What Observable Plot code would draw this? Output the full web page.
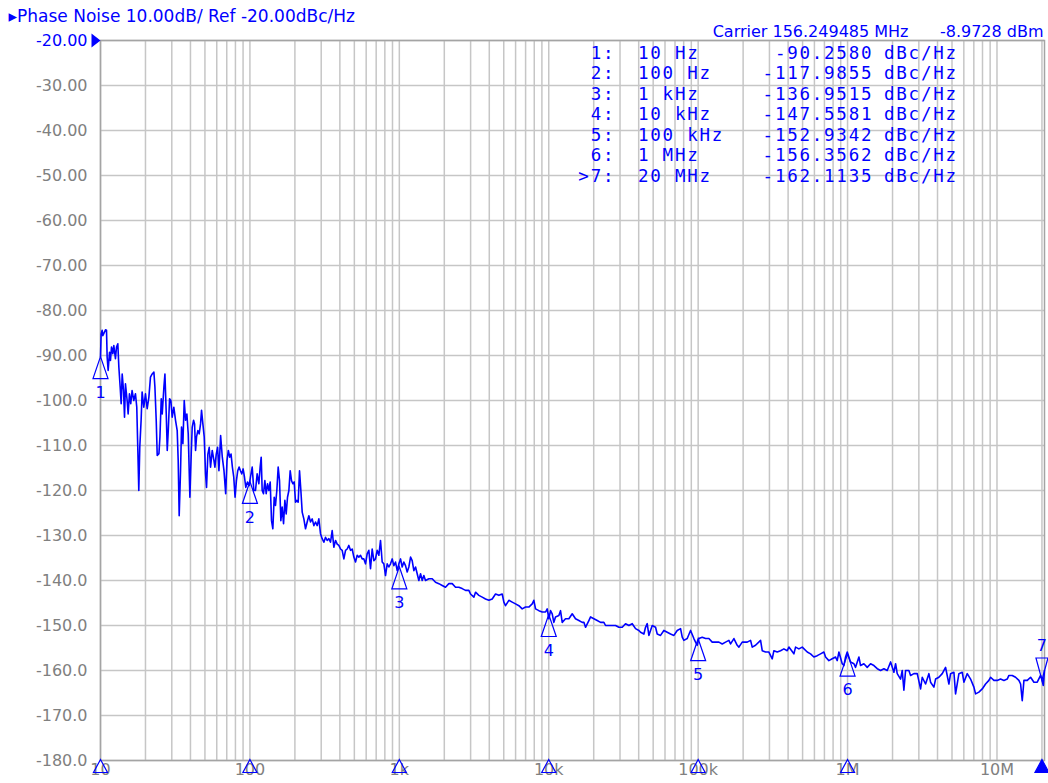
<!DOCTYPE html>
<html>
<head>
<meta charset="utf-8">
<script src="https://cdn.jsdelivr.net/npm/d3@7"></script>
<script src="https://cdn.jsdelivr.net/npm/@observablehq/plot@0.6"></script>
<style>
html, body { margin: 0; padding: 0; background: #fff; }
#chart svg { display: block; }
</style>
</head>
<body>
<div id="chart"></div>
<script>
// ---------- texts ----------
const titleText = "▸Phase Noise 10.00dB/ Ref -20.00dBc/Hz";
const carrierText = "Carrier 156.249485 MHz";
const carrierPower = "-8.9728 dBm";

// ---------- axes ----------
const refLevel = -20;
const refLabel = "-20.00";
const yTicks = [-30, -40, -50, -60, -70, -80, -90, -100, -110, -120, -130, -140, -150, -160, -170, -180];
const yTickLabels = ["-30.00", "-40.00", "-50.00", "-60.00", "-70.00", "-80.00", "-90.00", "-100.0", "-110.0", "-120.0", "-130.0", "-140.0", "-150.0", "-160.0", "-170.0", "-180.0"];
const xTicks = [10, 100, 1e3, 1e4, 1e5, 1e6, 1e7];
const xTickLabels = ["10", "100", "1k", "10k", "100k", "1M", "10M"];
const xDomain = [10, 2.08e7];

// ---------- markers ----------
const markerIds = ["1", "2", "3", "4", "5", "6", "7"];
const markerFreqHz = [10, 100, 1e3, 1e4, 1e5, 1e6, 2e7];
const markerFreqLabels = ["10 Hz", "100 Hz", "1 kHz", "10 kHz", "100 kHz", "1 MHz", "20 MHz"];
const markerLevel = [-90.2580, -117.9855, -136.9515, -147.5581, -152.9342, -156.3562, -162.1135];
const markerUnit = "dBc/Hz";
const activeMarker = "7";

// ---------- trace: [offset frequency Hz, dBc/Hz] ----------
const traceSweep = [
[10,-90.3],[10.1,-85.2],[10.26,-84.4],[10.36,-85.6],[10.63,-84.8],[10.8,-84.3],[10.97,-84.4],[11.08,-90.4],[11.25,-93.3],[11.49,-89.3],
[11.66,-91.1],[11.85,-88.1],[12.09,-89.6],[12.28,-87.8],[12.59,-90.7],[12.8,-88.1],[13.06,-87.4],[13.27,-92.6],[13.54,-97.0],[13.75,-100.7],
[13.97,-94.1],[14.26,-97.8],[14.48,-103.7],[14.69,-96.3],[15.08,-100.0],[15.31,-103.0],[15.62,-98.5],[15.94,-100.7],[16.27,-97.8],[16.7,-100.0],
[17.14,-98.5],[17.49,-101.5],[17.76,-110.4],[18.04,-120.0],[18.32,-110.4],[18.7,-104.4],[18.99,-98.1],[19.49,-101.5],[20.0,-98.5],[20.53,-101.8],
[21.07,-99.3],[21.6,-94.8],[22.18,-94.1],[22.77,-93.7],[23.13,-97.0],[23.6,-104.4],[23.97,-112.2],[24.61,-111.8],[24.99,-108.1],[25.5,-99.6],
[25.89,-103.0],[26.57,-97.0],[26.99,-94.1],[27.55,-103.0],[27.97,-111.1],[28.41,-106.7],[28.99,-99.6],[29.58,-100.0],[30.19,-103.7],[30.97,-101.5],
[31.78,-104.4],[32.61,-106.7],[33.11,-113.3],[33.62,-125.6],[34.33,-115.6],[34.86,-105.9],[35.6,-109.6],[36.34,-100.0],[37.09,-104.4],[37.86,-103.0],
[38.65,-107.4],[39.65,-121.5],[40.48,-111.9],[41.1,-105.9],[41.96,-104.4],[42.61,-105.2],[43.27,-111.1],[43.93,-108.1],[44.84,-106.7],[45.77,-107.4],
[46.73,-105.2],[47.45,-102.2],[48.44,-105.2],[49.45,-108.1],[50.48,-116.3],[51.25,-119.3],[52.32,-111.9],[53.41,-110.4],[54.52,-114.8],[55.95,-111.1],
[57.42,-113.3],[58.31,-114.8],[59.53,-111.9],[60.77,-110.4],[62.04,-115.6],[63.67,-107.8],[65.34,-112.6],[67.06,-115.6],[68.83,-120.7],[70.27,-113.3],
[71.74,-111.1],[73.24,-112.6],[74.77,-111.9],[76.33,-114.8],[77.93,-117.0],[79.56,-121.5],[81.22,-117.8],[82.92,-115.6],[84.65,-114.8],[86.42,-115.6],
[88.23,-116.3],[90.07,-115.2],[91.95,-117.0],[93.87,-119.3],[96.33,-118.1],[98.86,-118.9],[100.9,-117.0],[103.6,-114.8],[106.2,-120.0],
[109.0,-120.0],[111.8,-116.3],[114.8,-118.5],[117.1,-114.8],[119.0,-112.6],[120.8,-120.0],[123.3,-120.7],[125.9,-117.8],[128.5,-120.7],[131.2,-118.5],
[133.9,-120.0],[136.7,-118.1],[139.5,-126.7],[142.4,-128.5],[145.4,-121.5],[148.3,-123.3],[151.4,-120.0],[154.6,-114.8],[157.8,-117.8],[161.1,-126.7],
[164.4,-123.7],[167.9,-127.4],[171.4,-122.2],[174.9,-125.2],[178.5,-121.5],[182.3,-120.0],[186.0,-115.6],[189.8,-117.8],[193.8,-118.5],[197.8,-118.1],
[202.0,-122.6],[206.1,-122.2],[210.4,-122.6],[214.8,-115.6],[219.3,-120.0],[223.8,-124.8],[229.6,-126.3],[235.6,-128.5],[241.7,-127.0],[248.0,-125.6],
[254.5,-127.0],[261.1,-126.3],[267.9,-127.8],[274.9,-127.0],[282.0,-127.8],[289.3,-126.3],[296.8,-129.6],[304.5,-130.7],[312.6,-131.5],[320.6,-130.4],
[328.9,-131.1],[337.5,-130.7],[346.3,-131.5],[355.3,-128.9],[364.5,-132.6],[374.1,-131.1],[383.8,-131.9],[393.8,-132.2],[404.1,-133.0],[414.6,-133.3],
[425.4,-135.2],[436.5,-133.3],[447.7,-133.0],[459.4,-132.2],[471.3,-133.3],[483.6,-133.0],[496.2,-134.8],[509.1,-135.9],[522.4,-134.4],[535.9,-134.8],
[549.9,-134.4],[564.2,-135.2],[578.8,-135.2],[593.8,-136.3],[609.3,-134.1],[625.2,-133.3],[641.5,-137.4],[658.2,-133.0],[675.2,-135.6],[692.8,-135.2],
[710.9,-133.3],[729.4,-134.4],[748.4,-131.1],[767.9,-135.9],[787.8,-136.3],[808.4,-138.9],[829.4,-136.3],[851.0,-137.0],[873.2,-136.3],[896.0,-135.2],
[919.1,-136.7],[943.2,-135.9],[967.7,-137.8],[992.9,-136.3],[1019,-135.2],[1045,-137.0],[1072,-135.9],[1100,-136.7],[1129,-138.1],[1158,-137.0],
[1189,-134.8],[1219,-135.6],[1251,-137.8],[1284,-137.0],[1317,-138.5],[1351,-140.0],[1387,-138.5],[1423,-140.0],[1459,-138.9],
[1497,-140.0],[1577,-139.6],[1660,-139.6],[1747,-140.4],[1839,-140.7],[1936,-141.1],[2038,-141.5],[2145,-140.7],[2259,-140.7],[2378,-141.5],
[2503,-141.5],[2634,-141.8],[2774,-142.2],[2920,-142.2],[2996,-143.0],[3154,-143.7],[3236,-142.6],[3407,-143.3],[3587,-143.7],[3776,-144.1],
[3975,-144.4],[4184,-144.1],[4405,-143.0],[4637,-143.3],[4882,-143.0],[5008,-144.8],[5138,-145.6],[5409,-144.4],[5694,-144.8],[5995,-145.2],
[6311,-145.6],[6643,-146.3],[6994,-145.9],[7362,-145.9],[7751,-145.2],[7951,-144.4],[8160,-146.3],[8590,-146.7],[9044,-147.0],[9520,-147.0],
[9766,-146.3],[10020,-148.5],[10280,-146.7],[10550,-147.4],[10820,-149.3],[11100,-148.1],[11690,-147.8],[11990,-146.7],[12310,-149.3],[12950,-148.5],
[13640,-148.5],[14360,-147.4],[15110,-148.5],[15910,-148.9],[16750,-149.3],
[17190,-149.3],[17630,-150.4],[18560,-148.9],[19050,-148.1],[20050,-148.5],[21110,-148.9],[22220,-149.3],[23390,-149.3],[24000,-150.0],[25270,-150.0],
[26600,-150.0],[28000,-150.0],[29480,-150.4],[31030,-150.4],[32660,-149.6],[34380,-150.0],[36200,-149.6],[38110,-150.7],[40120,-151.1],[41170,-151.5],
[43340,-151.9],[44450,-150.4],[45610,-149.6],[46790,-152.2],[49260,-150.0],[51870,-150.4],[53210,-151.9],[56010,-152.2],[58960,-151.1],[62090,-151.5],
[65350,-151.9],[68810,-152.2],[72440,-151.1],[76250,-150.7],[78240,-152.6],[80270,-153.3],[84500,-152.9],[88960,-151.1],[93630,-152.9],[96070,-153.7],
[98580,-154.4],[101100,-152.9],[106500,-152.6],[112100,-152.9],[118000,-152.9],[124200,-153.7],[130800,-153.7],[137700,-153.7],[144900,-154.1],[152600,-153.7],
[160600,-153.3],[164800,-154.1],[173500,-152.9],[182600,-154.4],[187400,-154.8],[197200,-153.7],
[202300,-153.7],[213000,-153.7],[224300,-153.3],[230100,-154.8],[242200,-154.4],[261700,-153.3],[268500,-155.6],[282600,-155.9],[297500,-155.9],[313200,-157.4],
[321300,-155.6],[338200,-155.9],[356000,-155.6],[374800,-155.2],[394600,-155.6],[404900,-154.8],[437300,-156.3],[448700,-154.8],[472300,-155.2],[497400,-154.8],
[537200,-155.9],[565300,-156.3],[595100,-157.0],[626600,-156.7],[659600,-156.3],[694300,-155.9],[712300,-157.0],[749900,-157.8],[789300,-157.4],[831000,-157.0],
[852600,-157.8],[874900,-155.9],[921000,-158.5],[945000,-158.9],[969600,-157.0],[994900,-155.9],[1047000,-158.1],[1103000,-158.5],[1131000,-159.3],[1191000,-157.0],
[1222000,-158.9],[1286000,-158.5],[1354000,-159.3],[1425000,-158.5],[1501000,-158.9],[1580000,-159.6],[1663000,-160.0],[1751000,-159.6],[1843000,-160.0],[1941000,-158.1],
[2042000,-160.4],[2096000,-158.5],[2150000,-160.7],[2263000,-161.9],[2322000,-160.0],[2382000,-164.4],
[2445000,-160.0],[2573000,-160.0],[2641000,-161.1],[2780000,-160.7],[2927000,-160.7],[3081000,-164.1],[3161000,-161.5],[3327000,-163.0],[3502000,-160.7],[3594000,-162.6],
[3783000,-163.7],[3882000,-161.9],[4086000,-161.5],[4302000,-160.7],[4529000,-159.3],[4767000,-163.0],[4891000,-160.7],[5149000,-160.4],[5283000,-165.2],[5562000,-160.7],
[5854000,-160.4],[6007000,-162.6],[6324000,-160.7],[6657000,-161.9],[7008000,-163.7],[7191000,-165.2],[7569000,-164.8],[7968000,-164.1],[8388000,-163.0],[8830000,-162.2],
[9060000,-161.5],[9539000,-162.2],[10040000,-162.2],[10570000,-161.9],[11130000,-162.2],[11710000,-161.9],[12020000,-161.1],[12650000,-161.1],[13320000,-161.5],[14020000,-162.2],
[14390000,-163.0],[14760000,-166.7],[15150000,-162.2],[15950000,-162.2],[16790000,-161.5],[17670000,-162.6],[18600000,-162.6],[19580000,-161.1],[20000000,-162.1],[20400000,-163.3],
[20800000,-160.0]
];

// ---------- styles ----------
const BLUE = "#0000ff";
const GRAY = "#808080";
const GRID = "#c6c6c6";
const SANS = "DejaVu Sans";
const MONO = "DejaVu Sans Mono";
const MONO_SIZE = 17.5;
const MONO_SPACING = 1.76;

const markers = markerIds.map((id, i) => ({id, f: markerFreqHz[i], v: markerLevel[i], active: id === activeMarker}));
const passive = markers.filter(m => !m.active);
const active = markers.filter(m => m.active);

// custom symbols (apex at the data point)
const triUp = {draw(c) { c.moveTo(0, 0); c.lineTo(7.5, 22); c.lineTo(-7.5, 22); c.closePath(); }};
const triDown = {draw(c) { c.moveTo(0, 0); c.lineTo(6, -22); c.lineTo(-6, -22); c.closePath(); }};
const triAxis = {draw(c) { c.moveTo(0, -1); c.lineTo(7, 12); c.lineTo(-7, 12); c.closePath(); }};
const triRef = {draw(c) { c.moveTo(0, 0); c.lineTo(-9, -7); c.lineTo(-9, 7); c.closePath(); }};

const colA = markers.map(m => (m.active ? ">" : "") + m.id + ":").join("\n");
const colB = markerFreqLabels.join("\n");
const colC = markerLevel.map(v => v.toFixed(4)).join("\n");
const colD = markers.map(() => markerUnit).join("\n");
const tableFont = {fontFamily: MONO, fontSize: MONO_SIZE, lineHeight: 20.5 / MONO_SIZE, lineAnchor: "top", frameAnchor: "top-left", dy: 3.5, fill: BLUE};

const chart = Plot.plot({
  width: 1048,
  height: 783,
  marginLeft: 100,
  marginRight: 4,
  marginTop: 40,
  marginBottom: 23,
  style: {fontFamily: SANS, fontSize: "16px", background: "#fff", overflow: "visible"},
  x: {type: "log", domain: xDomain, label: null},
  y: {domain: [-180, -20], label: null},
  marks: [
    Plot.gridX({ticks: 12, stroke: GRID, strokeOpacity: 1, strokeWidth: 1.5}),
    Plot.gridY([refLevel, ...yTicks], {stroke: GRID, strokeOpacity: 1, strokeWidth: 1.5}),
    Plot.frame({stroke: "#a4a4a4", strokeWidth: 1.5}),
    Plot.axisX(xTicks, {tickSize: 0, tickPadding: 3, label: null, color: GRAY, fontSize: 16,
      tickFormat: d => xTickLabels[xTicks.indexOf(d)]}),
    Plot.axisY(yTicks, {tickSize: 0, tickPadding: 13, label: null, color: GRAY, fontSize: 16,
      tickFormat: d => yTickLabels[yTicks.indexOf(d)]}),
    Plot.text([refLevel], {y: d => d, text: () => refLabel, frameAnchor: "left", dx: -13, textAnchor: "end", fill: BLUE, fontSize: 16}),
    Plot.dot([refLevel], {y: d => d, frameAnchor: "left", symbol: triRef, fill: BLUE, stroke: "none"}),
    // marker table
    Plot.text([colA], {...tableFont, text: d => d, dx: 513 + MONO_SPACING, textAnchor: "end"}),
    Plot.text([colB], {...tableFont, text: d => d, dx: 537.5, textAnchor: "start"}),
    Plot.text([colC], {...tableFont, text: d => d, dx: 771 + MONO_SPACING, textAnchor: "end"}),
    Plot.text([colD], {...tableFont, text: d => d, dx: 783.5, textAnchor: "start"}),
    // trace
    Plot.line(traceSweep, {x: d => d[0], y: d => d[1], stroke: BLUE, strokeWidth: 1.6}),
    // markers on trace
    Plot.dot(passive, {x: "f", y: "v", symbol: triUp, stroke: BLUE, fill: "none", strokeWidth: 1.2}),
    Plot.dot(active, {x: "f", y: "v", symbol: triDown, stroke: BLUE, fill: "none", strokeWidth: 1.2}),
    Plot.text(passive, {x: "f", y: "v", text: "id", dy: 36, fill: BLUE, fontSize: 16}),
    Plot.text(active, {x: "f", y: "v", text: "id", dy: -34, fill: BLUE, fontSize: 16}),
    // markers on the frequency axis
    Plot.dot(passive, {x: "f", frameAnchor: "bottom", symbol: triAxis, stroke: BLUE, fill: "none", strokeWidth: 1.2}),
    Plot.dot(active, {x: "f", frameAnchor: "bottom", symbol: triAxis, stroke: BLUE, fill: BLUE, strokeWidth: 1.2}),
    // header texts
    Plot.text([titleText], {text: d => d, frameAnchor: "top-left", dx: -92, dy: -18.3, lineAnchor: "bottom", textAnchor: "start", fill: BLUE, fontSize: 17}),
    Plot.text([carrierText], {text: d => d, frameAnchor: "top-right", dx: -136, dy: -3.3, lineAnchor: "bottom", textAnchor: "end", fill: BLUE, fontSize: 16}),
    Plot.text([carrierPower], {text: d => d, frameAnchor: "top-right", dx: -1, dy: -3.3, lineAnchor: "bottom", textAnchor: "end", fill: BLUE, fontSize: 16})
  ]
});
// monospaced table: widen the character pitch to the analyzer's grid
d3.select(chart).selectAll(`g[font-family="${MONO}"]`).attr("letter-spacing", MONO_SPACING);
document.getElementById("chart").append(chart);
</script>
</body>
</html>
